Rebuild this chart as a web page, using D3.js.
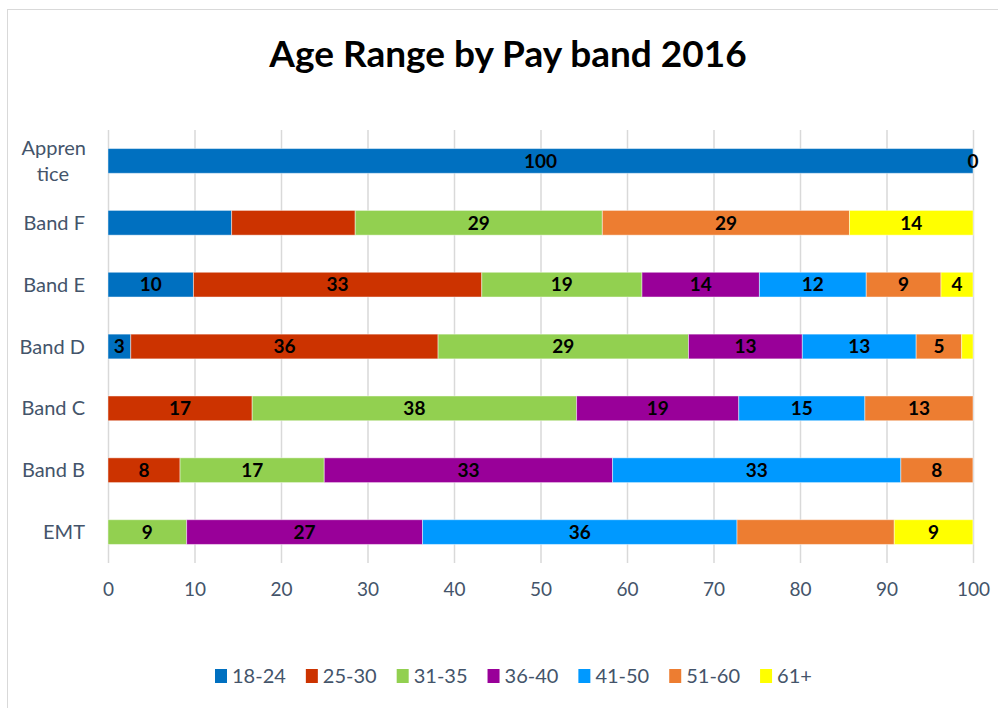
<!DOCTYPE html>
<html>
<head>
<meta charset="utf-8">
<script src="https://cdn.jsdelivr.net/npm/d3@7"></script>
<style>
  body { margin: 0; background: #fff; }
  svg { font-family: Lato, "Open Sans", sans-serif; }
</style>
</head>
<body>
<svg id="chart" width="998" height="708"></svg>
<script>
// pay bands, top to bottom
var bands = ["Apprentice", "Band F", "Band E", "Band D", "Band C", "Band B", "EMT"];
var age_groups = ["18-24", "25-30", "31-35", "36-40", "41-50", "51-60", "61+"];
var group_colors = ["#0070C0", "#CC3300", "#92D050", "#990099", "#0099FF", "#ED7D31", "#FFFF00"];

// percent of each band, one array per age group (null = no staff)
var v_18_24 = [100, 14.29, 9.88, 2.63, null, null, null];
var v_25_30 = [0, 14.29, 33.33, 35.53, 16.67, 8.33, null];
var v_31_35 = [0, 28.57, 18.52, 28.95, 37.5, 16.67, 9.09];
var v_36_40 = [0, null, 13.58, 13.16, 18.75, 33.33, 27.27];
var v_41_50 = [0, null, 12.35, 13.16, 14.58, 33.33, 36.36];
var v_51_60 = [0, 28.57, 8.64, 5.26, 12.5, 8.33, 18.18];
var v_61 = [0, 14.29, 3.70, 1.32, null, null, 9.09];

// which labels the original chart shows
var show_18_24 = [true, false, true, true, false, false, false];
var show_25_30 = [false, false, true, true, true, true, false];
var show_31_35 = [false, true, true, true, true, true, true];
var show_36_40 = [false, false, true, true, true, true, true];
var show_41_50 = [false, false, true, true, true, true, true];
var show_51_60 = [false, true, true, true, true, true, false];
var show_61 = [true, true, true, false, false, false, true];

var x_ticks = [0, 10, 20, 30, 40, 50, 60, 70, 80, 90, 100];

var series_vals = [v_18_24, v_25_30, v_31_35, v_36_40, v_41_50, v_51_60, v_61];
var series_show = [show_18_24, show_25_30, show_31_35, show_36_40, show_41_50, show_51_60, show_61];

// build rows for d3.stack
var rows = bands.map(function(b, i) {
  var r = { band: b };
  age_groups.forEach(function(g, j) { r[g] = series_vals[j][i] == null ? 0 : series_vals[j][i]; });
  return r;
});

var svg = d3.select("#chart");
var textColor = "#44546A";

// chart border
svg.append("rect")
  .attr("x", 7.5).attr("y", 9.5)
  .attr("width", 1000).attr("height", 720)
  .attr("fill", "none")
  .attr("stroke", "#D9D9D9");

// title
svg.append("text")
  .attr("x", 508).attr("y", 67)
  .attr("text-anchor", "middle")
  .style("font-size", "37px")
  .style("font-weight", "bold")
  .attr("fill", "#000")
  .text("Age Range by Pay band 2016");

var x = d3.scaleLinear().domain([0, 100]).range([108, 973]);
var y = d3.scaleBand().domain(bands).range([130, 563]).paddingInner(0.6).paddingOuter(0.3);

// gridlines
svg.append("g").selectAll("line")
  .data(x_ticks).enter().append("line")
  .attr("x1", function(d) { return x(d) + 0.5; })
  .attr("x2", function(d) { return x(d) + 0.5; })
  .attr("y1", 130).attr("y2", 563)
  .attr("stroke", "#D9D9D9")
  .attr("stroke-width", 1.5);

// x axis labels
var xAxis = svg.append("g")
  .attr("transform", "translate(0,563)")
  .call(d3.axisBottom(x).tickValues(x_ticks).tickSize(0).tickPadding(20));
xAxis.select(".domain").remove();
xAxis.selectAll("text")
  .style("font-size", "19px")
  .style("font-family", "Lato, sans-serif")
  .attr("fill", textColor);

// y labels
var yLab = svg.append("g").selectAll("text")
  .data(bands).enter().append("text")
  .attr("x", 85)
  .attr("y", function(d) { return y(d) + y.bandwidth() / 2; })
  .attr("text-anchor", "end")
  .attr("dy", "0.35em")
  .style("font-size", "20px")
  .attr("fill", textColor);
yLab.each(function(d) {
  var t = d3.select(this);
  if (d == "Apprentice") {
    t.attr("dy", null);
    t.append("tspan").attr("x", 86).attr("dy", "-0.32em").text("Appren");
    t.append("tspan").attr("x", 69).attr("dy", "1.3em").text("tice");
  } else {
    t.text(d);
  }
});

var stacked = d3.stack().keys(age_groups)(rows);

var layers = svg.append("g").selectAll("g")
  .data(stacked).enter().append("g")
  .attr("fill", function(d, i) { return group_colors[i]; });

layers.selectAll("rect")
  .data(function(d) { return d; })
  .enter().append("rect")
  .attr("x", function(d) { return x(d[0]); })
  .attr("y", function(d) { return y(d.data.band); })
  .attr("width", function(d) { return x(d[1]) - x(d[0]); })
  .attr("height", y.bandwidth())
  .attr("stroke", "rgba(255,255,255,0.45)")
  .attr("stroke-width", 1);

// data labels
var labels = svg.append("g");
stacked.forEach(function(layer, j) {
  layer.forEach(function(d, i) {
    if (series_vals[j][i] == null || !series_show[j][i]) return;
    labels.append("text")
      .attr("x", x((d[0] + d[1]) / 2))
      .attr("y", y(d.data.band) + y.bandwidth() / 2)
      .attr("dy", "0.36em")
      .attr("text-anchor", "middle")
      .style("font-size", "19px")
      .style("font-weight", "bold")
      .attr("fill", "#000")
      .text(Math.round(series_vals[j][i]));
  });
});

// legend
var legend = svg.append("g");
var lx = 215;
age_groups.forEach(function(g, i) {
  legend.append("rect")
    .attr("x", lx).attr("y", 669)
    .attr("width", 12).attr("height", 14)
    .attr("fill", group_colors[i]);
  var t = legend.append("text")
    .attr("x", lx + 17).attr("y", 676)
    .attr("dy", "0.36em")
    .style("font-size", "20px")
    .attr("fill", textColor)
    .text(g);
  lx += 17 + t.node().getComputedTextLength() + 20;
});
</script>
</body>
</html>
